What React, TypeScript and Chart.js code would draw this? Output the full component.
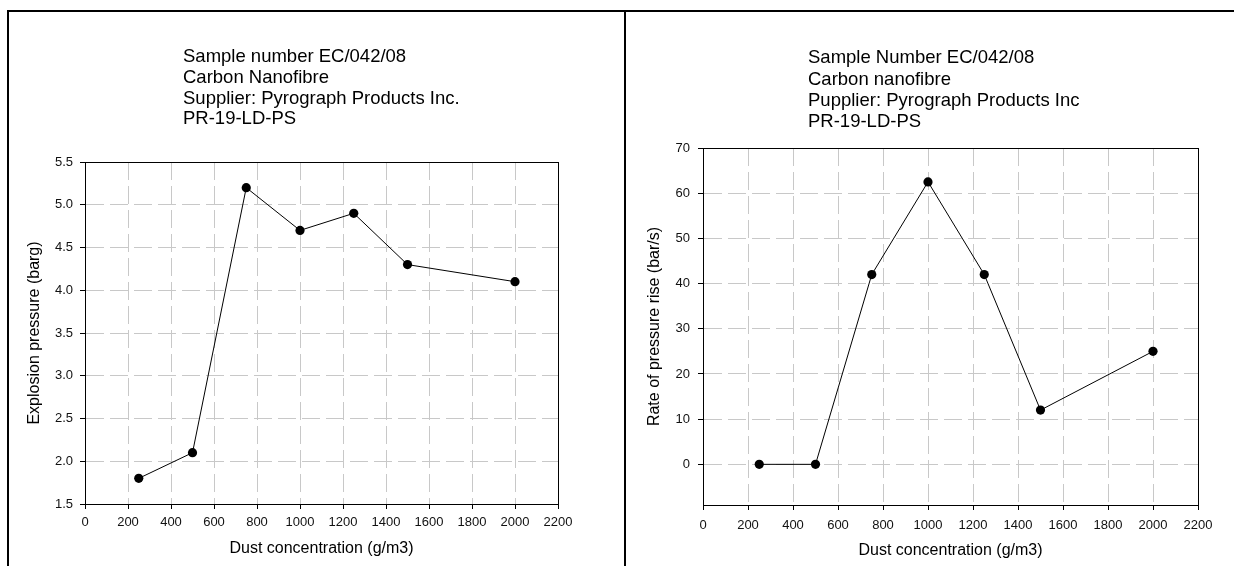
import React, { useEffect, useRef } from "react";
import { Chart, registerables } from "chart.js";

Chart.register(...registerables);

// ---------- data ----------
const concentration = [250, 500, 750, 1000, 1250, 1500, 2000];
const explosionPressure = [1.8, 2.1, 5.2, 4.7, 4.9, 4.3, 4.1];
const pressureRiseRate = [0, 0, 42, 62.5, 42, 12, 25];

const xTicks = [0, 200, 400, 600, 800, 1000, 1200, 1400, 1600, 1800, 2000, 2200];
const leftYTicks = [1.5, 2.0, 2.5, 3.0, 3.5, 4.0, 4.5, 5.0, 5.5];
const rightYTicks = [0, 10, 20, 30, 40, 50, 60, 70];

const leftTitle = [
  "Sample number EC/042/08",
  "Carbon Nanofibre",
  "Supplier: Pyrograph Products Inc.",
  "PR-19-LD-PS",
];
const rightTitle = [
  "Sample Number EC/042/08",
  "Carbon nanofibre",
  "Pupplier: Pyrograph Products Inc",
  "PR-19-LD-PS",
];
const xAxisTitle = "Dust concentration (g/m3)";
const leftYTitle = "Explosion pressure (barg)";
const rightYTitle = "Rate of pressure rise (bar/s)";

const xRange = { min: 0, max: 2200 };
const leftYRange = { min: 1.5, max: 5.5 };
const rightYRange = { min: -9, max: 70 };

const FONT = '"Liberation Sans", Arial, Helvetica, sans-serif';

type PanelProps = {
  left: number;
  width: number;
  values: number[];
  title: string[];
  yTitle: string;
  yRange: { min: number; max: number };
  yTicks: number[];
  decimals: number;
  yWidth: number;
  xHeight: number;
  padTop: number;
  padRight: number;
  yTitlePad: number;
  xTitlePad: number;
  xTickPad: number;
  yTickPad: number;
  titleX: number;
  titleY: number;
  titleStep: number;
};

function Panel(p: PanelProps) {
  const ref = useRef<HTMLCanvasElement | null>(null);
  useEffect(() => {
    if (!ref.current) return;
    const frameAndTitle = {
      id: "frameAndTitle",
      afterDraw(chart: any) {
        const { ctx, chartArea } = chart;
        ctx.save();
        ctx.setLineDash([]);
        ctx.strokeStyle = "#000";
        ctx.lineWidth = 1;
        const l = Math.round(chartArea.left) + 0.5;
        const t = Math.round(chartArea.top) + 0.5;
        const r = Math.round(chartArea.right) + 0.5;
        const b = Math.round(chartArea.bottom) + 0.5;
        ctx.strokeRect(l, t, r - l, b - t);
        ctx.fillStyle = "#000";
        ctx.font = `18.5px ${FONT}`;
        ctx.textAlign = "left";
        ctx.textBaseline = "alphabetic";
        p.title.forEach((line, i) => {
          ctx.fillText(line, p.titleX, p.titleY + i * p.titleStep);
        });
        ctx.restore();
      },
    };
    const gridCommon = {
      color: "#c8c8c8",
      lineWidth: 1,
      drawTicks: true,
      tickLength: 5,
      tickColor: "#000",
      tickWidth: 1,
      tickBorderDash: [],
    };
    const borderCommon = { display: true, color: "#000", width: 1, dash: [18, 6] };
    const chart = new Chart(ref.current, {
      type: "scatter",
      data: {
        datasets: [
          {
            data: concentration.map((x, i) => ({ x, y: p.values[i] })),
            showLine: true,
            borderColor: "#000",
            borderWidth: 1,
            backgroundColor: "#000",
            pointBackgroundColor: "#000",
            pointBorderColor: "#000",
            pointRadius: 4.6,
            pointBorderWidth: 0,
            tension: 0,
          },
        ],
      },
      options: {
        animation: false,
        responsive: false,
        events: [],
        layout: {
          padding: { top: p.padTop, right: p.padRight, left: 0, bottom: 0 },
        },
        plugins: {
          legend: { display: false },
          title: { display: false },
          tooltip: { enabled: false },
        },
        scales: {
          x: {
            type: "linear",
            min: xRange.min,
            max: xRange.max,
            bounds: "data",
            afterFit: (s: any) => {
              s.height = p.xHeight;
            },
            afterBuildTicks: (s: any) => {
              s.ticks = xTicks.map((v) => ({ value: v }));
            },
            ticks: {
              color: "#111",
              padding: p.xTickPad,
              font: { family: FONT, size: 13 },
              maxRotation: 0,
              autoSkip: false,
              callback: (v: any) => String(v),
            },
            grid: gridCommon,
            border: borderCommon,
            title: {
              display: true,
              text: xAxisTitle,
              color: "#000",
              font: { family: FONT, size: 16 },
              padding: { top: 0, bottom: p.xTitlePad },
            },
          },
          y: {
            type: "linear",
            min: p.yRange.min,
            max: p.yRange.max,
            bounds: "data",
            afterFit: (s: any) => {
              s.width = p.yWidth;
            },
            afterBuildTicks: (s: any) => {
              s.ticks = p.yTicks.map((v) => ({ value: v }));
            },
            ticks: {
              color: "#111",
              padding: p.yTickPad,
              font: { family: FONT, size: 13 },
              autoSkip: false,
              callback: (v: any) => Number(v).toFixed(p.decimals),
            },
            grid: gridCommon,
            border: borderCommon,
            title: {
              display: true,
              text: p.yTitle,
              color: "#000",
              font: { family: FONT, size: 16 },
              padding: { top: p.yTitlePad, bottom: 0 },
            },
          },
        },
      },
      plugins: [frameAndTitle],
    } as any);
    return () => chart.destroy();
  }, []);
  return (
    <canvas
      ref={ref}
      width={p.width}
      height={566}
      style={{
        position: "absolute",
        left: p.left,
        top: 0,
        width: p.width,
        height: 566,
        display: "block",
      }}
    />
  );
}

export default function App() {
  return (
    <div
      style={{
        position: "fixed",
        left: 0,
        top: 0,
        width: 1234,
        height: 566,
        background: "#fff",
        overflow: "hidden",
      }}
    >
      <Panel
        left={0}
        width={624}
        values={explosionPressure}
        title={leftTitle}
        yTitle={leftYTitle}
        yRange={leftYRange}
        yTicks={leftYTicks}
        decimals={1}
        yWidth={85}
        xHeight={62}
        padTop={162}
        padRight={66}
        yTitlePad={25}
        xTitlePad={8}
        xTickPad={6}
        yTickPad={7}
        titleX={183}
        titleY={62}
        titleStep={20.8}
      />
      <Panel
        left={626}
        width={608}
        values={pressureRiseRate}
        title={rightTitle}
        yTitle={rightYTitle}
        yRange={rightYRange}
        yTicks={rightYTicks}
        decimals={0}
        yWidth={77}
        xHeight={61}
        padTop={148}
        padRight={36}
        yTitlePad={19}
        xTitlePad={6}
        xTickPad={8}
        yTickPad={8}
        titleX={182}
        titleY={63.3}
        titleStep={21.2}
      />
      <div style={{ position: "absolute", left: 7, top: 10, width: 1227, height: 2, background: "#000" }} />
      <div style={{ position: "absolute", left: 7, top: 10, width: 2, height: 556, background: "#000" }} />
      <div style={{ position: "absolute", left: 624, top: 10, width: 2, height: 556, background: "#000" }} />
    </div>
  );
}
